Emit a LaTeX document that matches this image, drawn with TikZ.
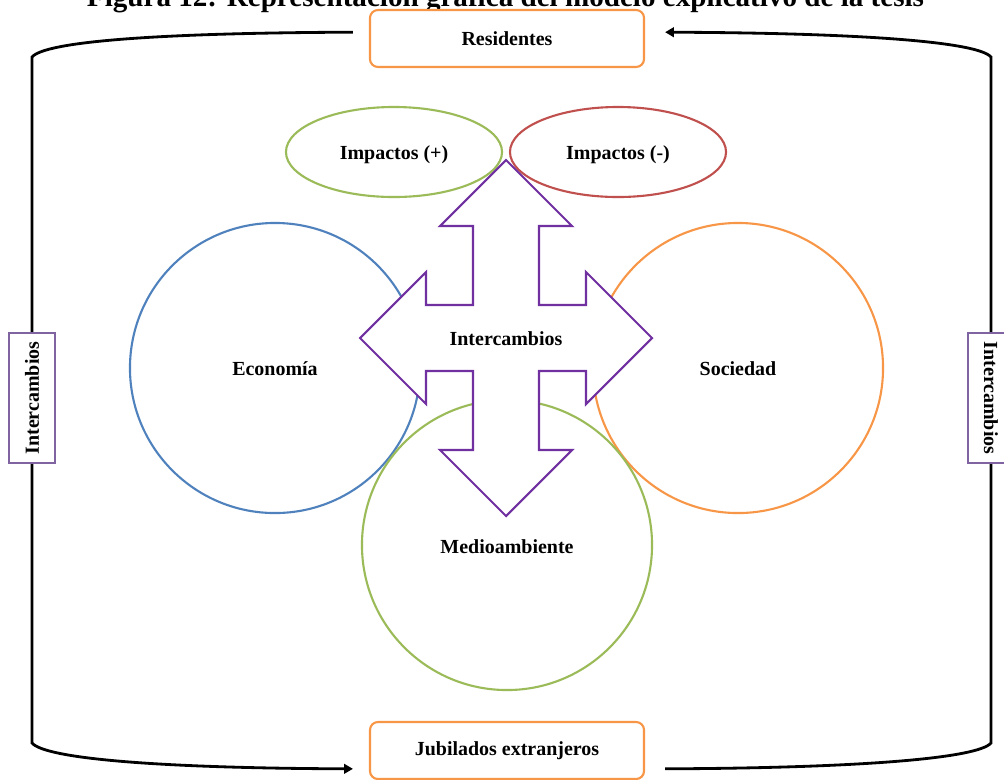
\documentclass[tikz,border=0pt]{standalone}
\usepackage{fontspec}
\setmainfont{Liberation Serif}
\usepackage{xcolor}
\usepackage{tikz}
\usetikzlibrary{arrows.meta,positioning,shapes.geometric}

\definecolor{offorange}{HTML}{F79646}
\definecolor{offgreen}{HTML}{9BBB59}
\definecolor{offred}{HTML}{C0504D}
\definecolor{offblue}{HTML}{4F81BD}
\definecolor{offpurple}{HTML}{8064A2}
\definecolor{crosspurple}{HTML}{7030A0}

\begin{document}
\begin{tikzpicture}[
  x=0.025cm, y=-0.025cm,
  every node/.style={font=\bfseries\fontsize{14.2}{17}\selectfont},
  box/.style={draw=offorange, line width=1.5pt, fill=white, rounded corners=0.2cm, minimum width=6.85cm, minimum height=1.425cm},
  sidebox/.style={draw=offpurple, line width=1.5pt, fill=white, minimum width=3.25cm, minimum height=1.17cm},
  ell/.style={ellipse, line width=1.5pt, inner sep=0pt, minimum width=5.4cm, minimum height=2.25cm},
  circ/.style={circle, line width=1.5pt, inner sep=0pt, minimum size=7.25cm},
  link/.style={line width=2pt},
  cross/.style={draw=crosspurple, line width=1.5pt, fill=white, line join=miter},
  >={Triangle[length=2.2mm,width=2.4mm]}
]
  \useasboundingbox (0,0) rectangle (1004,779);

  % title, cut off at the top
  \node[anchor=base, font=\bfseries\fontsize{20.7}{24}\selectfont] (caption) at (505.5,6.5)
    {Figura 12: Representación gráfica del modelo explicativo de la tesis};

  % circles and ellipses
  \node[circ, draw=offblue] (eco) at (275,368) {};
  \node[circ, draw=offorange] (soc) at (738,368) {};
  \node[circ, draw=offgreen] (med) at (507,545) {};
  \node[ell, draw=offgreen] (imppos) at (394,152) {};
  \node[ell, draw=offred] (impneg) at (618,152) {};
  \node at ([yshift=-0.06cm]imppos) {Impactos (+)};
  \node at ([yshift=-0.06cm]impneg) {Impactos (-)};
  \node at ([yshift=-0.02cm]eco) {Economía};
  \node at ([yshift=-0.02cm]soc) {Sociedad};
  \node at ([yshift=-0.05cm]med) {Medioambiente};

  % four-way arrow
  \draw[cross, shift={(506,338)}] (0,-178) -- (66,-112) -- (33,-112) -- (33,-33) -- (80,-33) -- (80,-66)
    -- (146,0) -- (80,66) -- (80,33) -- (33,33) -- (33,112) -- (66,112) -- (0,178) -- (-66,112)
    -- (-33,112) -- (-33,33) -- (-80,33) -- (-80,66) -- (-146,0) -- (-80,-66) -- (-80,-33)
    -- (-33,-33) -- (-33,-112) -- (-66,-112) -- cycle;
  \node (hub) at (506,339) {Intercambios};

  % boxes
  \node[box] (res) at (507,38.5) {Residentes};
  \node[box] (jub) at (507,750.5) {Jubilados extranjeros};
  \node[sidebox, rotate=90] (intL) at (32,398) {Intercambios};
  \node[sidebox, rotate=-90] (intR) at (991,398) {Intercambios};

  % outer loop
  \draw[link, shorten <=0.4cm] ([yshift=0.16cm]res.west) .. controls (150,33) and (45,42) .. (32,57) -- (intL.east);
  \draw[link, ->, shorten >=0.4cm] (intL.west) -- (32,743) .. controls (45,758) and (150,768) .. ([yshift=-0.46cm]jub.west);
  \draw[link, shorten <=0.5cm] ([yshift=-0.46cm]jub.east) .. controls (864,768) and (978,758) .. (991,743) -- (intR.east);
  \draw[link, ->, shorten >=0.5cm] (intR.west) -- (991,57) .. controls (978,42) and (864,33) .. ([yshift=0.16cm]res.east);
\end{tikzpicture}
\end{document}
